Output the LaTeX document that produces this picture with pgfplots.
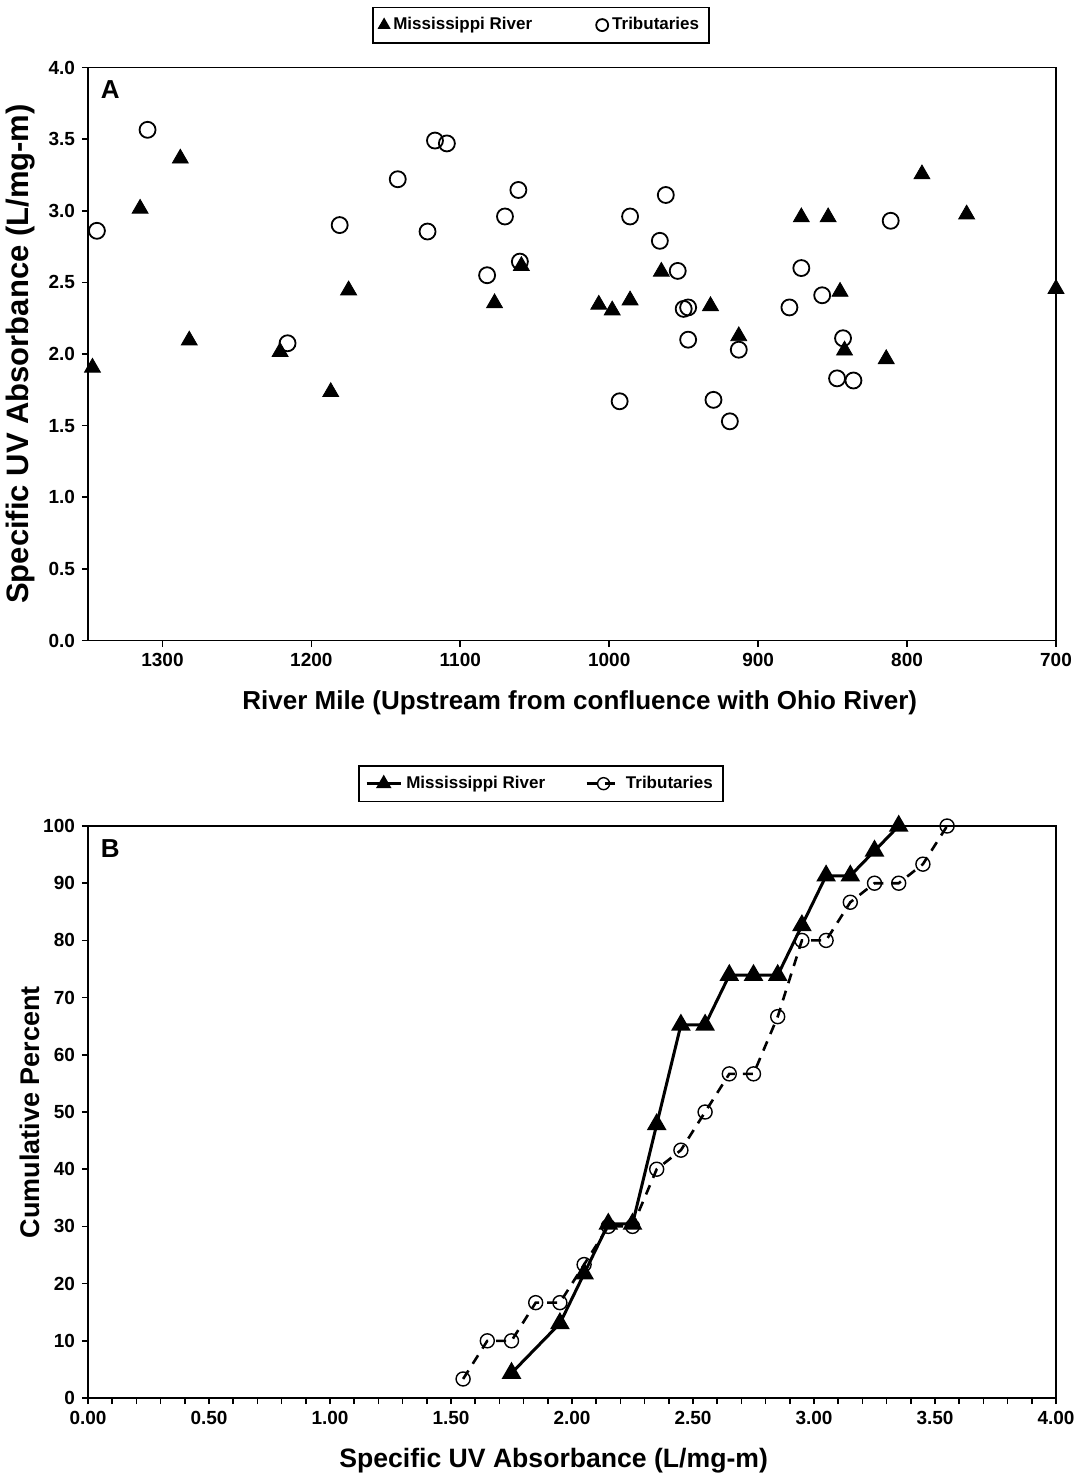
\documentclass[border=0pt]{standalone}
\usepackage{fontspec}
\setmainfont{Liberation Sans}
\usepackage{pgfplots}
\pgfplotsset{compat=1.18}

\pgfplotstableread{
mile suva
1347 1.905
1315 3.015
1288 3.365
1282 2.095
1221 2.015
1187 1.735
1175 2.445
1077 2.355
1059 2.615
1007 2.345
998  2.305
986  2.375
965  2.575
932  2.335
913  2.125
871  2.955
853  2.955
845  2.435
842  2.025
814  1.965
790  3.255
760  2.975
700  2.455
}\missA

\pgfplotstableread{
mile suva
1344 2.86
1310 3.565
1216 2.075
1181 2.90
1142 3.22
1122 2.855
1117 3.49
1109 3.47
1061 3.145
1070 2.96
1082 2.55
1060 2.645
962  3.11
986  2.96
966  2.79
954  2.58
950  2.315
947  2.325
947  2.10
913  2.03
993  1.67
930  1.68
919  1.53
871  2.60
879  2.325
857  2.41
843  2.11
847  1.83
836  1.815
811  2.93
}\tribA

\pgfplotstableread{
suva pct
1.75 4.35
1.95 13.04
2.05 21.74
2.15 30.43
2.25 30.43
2.35 47.83
2.45 65.22
2.55 65.22
2.65 73.91
2.75 73.91
2.85 73.91
2.95 82.61
3.05 91.30
3.15 91.30
3.25 95.65
3.35 100
}\missB

\pgfplotstableread{
suva pct
1.55 3.33
1.65 10
1.75 10
1.85 16.67
1.95 16.67
2.05 23.33
2.15 30
2.25 30
2.35 40
2.45 43.33
2.55 50
2.65 56.67
2.75 56.67
2.85 66.67
2.95 80
3.05 80
3.15 86.67
3.25 90
3.35 90
3.45 93.33
3.55 100
}\tribB

\begin{document}
\begin{tikzpicture}
\path[use as bounding box] (0,0) rectangle (539pt,-738.5pt);
\pgfplotsset{
  common/.style={
    scale only axis, width=484pt,
    axis line style={line width=0.8pt},
    tick align=outside, tick pos=left,
    major tick length=3pt, minor tick length=3pt,
    every tick/.style={black, line width=0.8pt},
    tick label style={font=\bfseries\fontsize{9.5}{10}\selectfont},
    /pgf/number format/assume math mode=true,
    clip=false,
    legend style={draw=black, line width=0.8pt,
      font=\bfseries\fontsize{8.5}{9}\selectfont,
      legend columns=2, anchor=center, at={(0.468,1.074)},
      inner xsep=3pt, inner ysep=3pt},
  }
}
% Panel A
\begin{axis}[common,
  at={(44pt,-320.25pt)}, anchor=south west,
  height=286.5pt,
  x dir=reverse, xmin=700, xmax=1350, ymin=0, ymax=4,
  xtick={700,800,...,1300},
  ytick={0,0.5,...,4},
  xticklabel style={/pgf/number format/1000 sep={}},
  yticklabel style={/pgf/number format/.cd, fixed, fixed zerofill, precision=1},
  xlabel={River Mile (Upstream from confluence with Ohio River)},
  ylabel={Specific UV Absorbance (L/mg-m)},
  xlabel style={font=\bfseries\fontsize{13}{14}\selectfont, at={(axis description cs:0.508,-0.109)}, anchor=center},
  ylabel style={font=\bfseries\fontsize{15.5}{17}\selectfont, at={(axis description cs:-0.070,0.5)}, anchor=center},
  legend style={/tikz/every even column/.append style={column sep=30pt}},
  legend image post style={mark size=3pt},
  reverse legend,
]
\addplot[only marks, mark=o, mark size=4pt, mark options={line width=0.9pt, fill=white}] table[x=mile,y=suva] {\tribA};
\addlegendentry{Tributaries}
\addplot[only marks, mark=triangle*, mark size=4.6pt, mark options={fill=black}] table[x=mile,y=suva] {\missA};
\addlegendentry{Mississippi River}
\node[font=\bfseries\fontsize{13}{14}\selectfont] at (axis description cs:0.023,0.961) {A};
\end{axis}

% Panel B
\begin{axis}[common,
  at={(44pt,-699pt)}, anchor=south west,
  height=286pt,
  xmin=0, xmax=4, ymin=0, ymax=100,
  xtick={0,0.5,...,4}, minor x tick num=4,
  ytick={0,10,...,100},
  xticklabel style={/pgf/number format/.cd, fixed, fixed zerofill, precision=2},
  xlabel={Specific UV Absorbance (L/mg-m)},
  ylabel={Cumulative Percent},
  xlabel style={font=\bfseries\fontsize{13.3}{14}\selectfont, at={(axis description cs:0.481,-0.11)}, anchor=center},
  ylabel style={font=\bfseries\fontsize{13.5}{14}\selectfont, at={(axis description cs:-0.060,0.5)}, anchor=center},
  legend style={/tikz/every even column/.append style={column sep=18pt}},
  legend image post style={mark size=3pt},
]
\addplot[black, line width=1.5pt, mark=triangle*, mark size=4.2pt, mark options={solid, fill=black}] table[x=suva,y=pct] {\missB};
\addlegendentry{Mississippi River}
\addplot[black, line width=1.3pt, dash pattern=on 5pt off 4pt, mark=o, mark size=3.5pt, mark options={solid, line width=0.7pt, fill=none}] table[x=suva,y=pct] {\tribB};
\addlegendentry{Tributaries}
\node[font=\bfseries\fontsize{13}{14}\selectfont] at (axis description cs:0.023,0.961) {B};
\end{axis}
\end{tikzpicture}
\end{document}
